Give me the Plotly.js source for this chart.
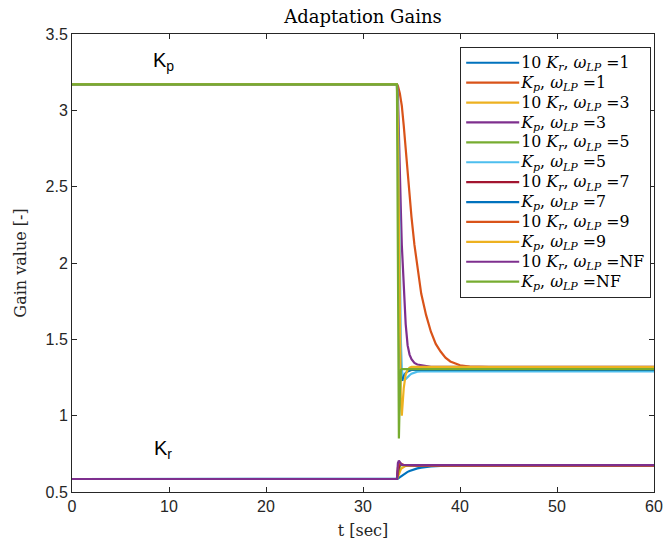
<!DOCTYPE html>
<html>
<head>
<meta charset="utf-8">
<script src="https://cdn.plot.ly/plotly-3.0.1.min.js"></script>
<style>html,body{margin:0;padding:0;background:#fff;}#chart{width:663px;height:545px;}</style>
</head>
<body>
<div id="chart"></div>
<script>
// time samples [sec]
const t = [0, 33.5, 33.6, 33.7, 33.8, 33.9, 34.0, 34.2, 34.4, 34.6, 34.8, 35.0, 35.3, 35.6, 36.0, 36.5, 37.0, 37.5, 38.0, 38.5, 39.0, 40.0, 41, 43, 46, 50, 60];

// 10 Kr series
const kr_w1  = [0.585,0.585,0.588,0.593,0.598,0.603,0.608,0.617,0.625,0.632,0.638,0.643,0.650,0.655,0.660,0.665,0.668,0.670,0.672,0.673,0.674,0.675,0.675,0.675,0.675,0.675,0.675];
const kr_w3  = [0.585,0.585,0.600,0.620,0.635,0.648,0.656,0.666,0.671,0.673,0.674,0.675,0.675,0.675,0.675,0.675,0.675,0.675,0.675,0.675,0.675,0.675,0.675,0.675,0.675,0.675,0.675];
const kr_w5  = [0.585,0.585,0.620,0.650,0.668,0.676,0.678,0.677,0.676,0.675,0.675,0.675,0.675,0.675,0.675,0.675,0.675,0.675,0.675,0.675,0.675,0.675,0.675,0.675,0.675,0.675,0.675];
const kr_w7  = [0.585,0.585,0.640,0.675,0.685,0.684,0.680,0.677,0.676,0.675,0.675,0.675,0.675,0.675,0.675,0.675,0.675,0.675,0.675,0.675,0.675,0.675,0.675,0.675,0.675,0.675,0.675];
const kr_w9  = [0.585,0.585,0.660,0.690,0.692,0.685,0.680,0.677,0.676,0.675,0.675,0.675,0.675,0.675,0.675,0.675,0.675,0.675,0.675,0.675,0.675,0.675,0.675,0.675,0.675,0.675,0.675];
const kr_nf  = [0.585,0.585,0.690,0.705,0.695,0.683,0.678,0.677,0.676,0.676,0.676,0.676,0.676,0.676,0.676,0.676,0.676,0.676,0.676,0.676,0.676,0.676,0.676,0.676,0.676,0.676,0.676];

// Kp series
const kp_w1  = [3.17,3.17,3.16,3.14,3.11,3.07,3.03,2.90,2.74,2.58,2.42,2.30,2.12,1.97,1.80,1.66,1.55,1.47,1.42,1.38,1.355,1.33,1.322,1.318,1.315,1.315,1.315];
const kp_w3  = [3.17,3.17,3.10,2.90,2.62,2.35,2.12,1.80,1.60,1.46,1.40,1.37,1.345,1.335,1.33,1.325,1.32,1.32,1.32,1.32,1.32,1.32,1.32,1.32,1.32,1.32,1.32];
const kp_w5  = [3.17,3.17,3.00,2.50,1.90,1.50,1.30,1.235,1.24,1.255,1.265,1.275,1.283,1.288,1.29,1.29,1.29,1.29,1.29,1.29,1.29,1.29,1.29,1.29,1.29,1.29,1.29];
const kp_w7  = [3.17,3.17,2.85,2.10,1.45,1.24,1.23,1.26,1.28,1.29,1.295,1.30,1.30,1.30,1.30,1.30,1.30,1.30,1.30,1.30,1.30,1.30,1.30,1.30,1.30,1.30,1.30];
const kp_w9  = [3.17,3.17,2.90,2.20,1.50,1.10,1.00,1.18,1.27,1.30,1.315,1.32,1.32,1.32,1.32,1.32,1.32,1.32,1.32,1.32,1.32,1.32,1.32,1.32,1.32,1.32,1.32];
const kp_nf  = [3.17,3.17,2.00,0.85,1.15,1.30,1.305,1.305,1.305,1.305,1.305,1.305,1.305,1.305,1.305,1.305,1.305,1.305,1.305,1.305,1.305,1.305,1.305,1.305,1.305,1.305,1.305];

const omegaLabels = ["1","1","3","3","5","5","7","7","9","9","NF","NF"];
const gainKind = ["Kr","Kp","Kr","Kp","Kr","Kp","Kr","Kp","Kr","Kp","Kr","Kp"];
const seriesData = [kr_w1, kp_w1, kr_w3, kp_w3, kr_w5, kp_w5, kr_w7, kp_w7, kr_w9, kp_w9, kr_nf, kp_nf];
const colors = ["#0072BD","#D95319","#EDB120","#7E2F8E","#77AC30","#4DBEEE","#A2142F","#0072BD","#D95319","#EDB120","#7E2F8E","#77AC30"];

const SERIF = "DejaVu Serif, Liberation Serif, serif";

function legendName(kind, w) {
  const g = kind === "Kr" ? "10 <i>K</i><sub><i>r</i></sub>" : "<i>K</i><sub><i>p</i></sub>";
  return '<span style="font-size:15.8px">' + g + ", <i>ω</i><sub><i>LP</i></sub> =" + w + "</span>";
}

const traces = seriesData.map((y, i) => ({
  x: t, y: y, type: "scatter", mode: "lines",
  name: legendName(gainKind[i], omegaLabels[i]),
  line: {color: colors[i], width: 2.2}
}));

const axisCommon = {
  showgrid: false, zeroline: false, showline: true, mirror: "ticks",
  linecolor: "#262626", linewidth: 1, ticks: "inside", ticklen: 5, tickcolor: "#262626",
  tickfont: {family: "Liberation Sans, Arial, sans-serif", size: 16, color: "#262626"}
};

const layout = {
  width: 663, height: 545,
  margin: {l: 72, r: 9, t: 34, b: 53},
  paper_bgcolor: "#fff", plot_bgcolor: "#fff",
  title: {text: "Adaptation Gains", font: {family: SERIF, size: 18, color: "#000"},
    xref: "paper", x: 0.5, xanchor: "center", yref: "container", y: 0.970, yanchor: "middle"},
  xaxis: Object.assign({}, axisCommon, {range: [0, 60], tickvals: [0,10,20,30,40,50,60],
    title: {text: "t [sec]", font: {family: SERIF, size: 16, color: "#262626"}, standoff: 10}}),
  yaxis: Object.assign({}, axisCommon, {range: [0.5, 3.5], tickvals: [0.5,1,1.5,2,2.5,3,3.5],
    ticktext: ["0.5","1","1.5","2","2.5","3","3.5"],
    title: {text: "Gain value [-]", font: {family: SERIF, size: 16, color: "#262626"}, standoff: 14}}),
  showlegend: true,
  legend: {x: 0.667, y: 0.972, xanchor: "left", yanchor: "top",
    bgcolor: "#fff", bordercolor: "#262626", borderwidth: 1,
    font: {family: SERIF, size: 13, color: "#000"},
    tracegroupgap: 0, itemwidth: 50},
  annotations: [
    {x: 9.4, y: 3.32, xref: "x", yref: "y", text: "K<sub>p</sub>", showarrow: false,
     font: {family: "Liberation Sans, Arial, sans-serif", size: 20, color: "#000"}},
    {x: 9.4, y: 0.78, xref: "x", yref: "y", text: "K<sub>r</sub>", showarrow: false,
     font: {family: "Liberation Sans, Arial, sans-serif", size: 20, color: "#000"}}
  ]
};

Plotly.newPlot("chart", traces, layout, {displayModeBar: false, staticPlot: true}).then(function (gd) {
  // lengthen legend line samples to fill the symbol area
  gd.querySelectorAll(".legend .js-line").forEach(function (p) { p.setAttribute("d", "M5,0h53"); });
});
</script>
</body>
</html>
